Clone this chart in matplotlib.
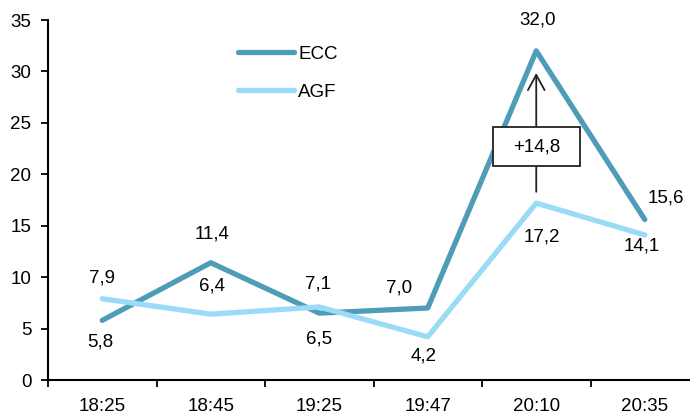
import matplotlib
matplotlib.use("Agg")
import matplotlib.pyplot as plt
from matplotlib.patches import Rectangle

# data
times = ["18:25", "18:45", "19:25", "19:47", "20:10", "20:35"]
ecc = [5.8, 11.4, 6.5, 7.0, 32.0, 15.6]
agf = [7.9, 6.4, 7.1, 4.2, 17.2, 14.1]
delta_label = "+14,8"

# label offsets in pixels (dx, dy), y up
ecc_off = [(-2, -22), (1, 29), (0, -26), (-29, 20), (1, 31), (21, 22)]
agf_off = [(0, 21), (1, 28), (-1, 23), (-4, -19), (6, -34), (-3, -11)]

plt.rcParams["font.family"] = ["Liberation Sans", "DejaVu Sans"]
fs = 13.5

ecc_col = "#4f9cb9"
agf_col = "#9adcf7"

W, H = 690, 419
fig = plt.figure(figsize=(W / 100, H / 100), dpi=100)
ax = fig.add_axes([48 / W, 39 / H, 642 / W, 360 / H])

x = list(range(len(times)))
ax.plot(x, ecc, color=ecc_col, lw=3.8, solid_capstyle="round", label="ECC")
ax.plot(x, agf, color=agf_col, lw=3.8, solid_capstyle="round", label="AGF")

def fmt(v):
    return f"{v:.1f}".replace(".", ",")

for xi, v, (dx, dy) in zip(x, ecc, ecc_off):
    ax.annotate(fmt(v), (xi, v), xytext=(dx * 0.72, dy * 0.72), textcoords="offset points",
                ha="center", va="center", fontsize=fs)
for xi, v, (dx, dy) in zip(x, agf, agf_off):
    ax.annotate(fmt(v), (xi, v), xytext=(dx * 0.72, dy * 0.72), textcoords="offset points",
                ha="center", va="center", fontsize=fs)

# arrow + box at 20:10
peak = ecc.index(max(ecc))
ax.annotate("", xy=(peak, 29.85), xytext=(peak, 18.3),
            arrowprops=dict(arrowstyle="->,head_length=1.1,head_width=0.6",
                            lw=1.3, color="#222222", shrinkA=0, shrinkB=0))
ax.add_patch(Rectangle((peak - 0.4, 20.8), 0.8, 3.8, facecolor="white",
                       edgecolor="#222222", lw=1.3, zorder=4))
ax.text(peak, 22.7, delta_label, ha="center", va="center", fontsize=fs, zorder=5)

ax.set_xlim(-0.5, -0.5 + 642 / 108.5)
ax.set_ylim(0, 35)
ax.set_yticks(range(0, 36, 5))
ax.set_xticks(x)
ax.set_xticklabels(times)
ax.set_xticks([i - 0.5 for i in x], minor=True)
ax.tick_params(axis="x", which="major", length=0, pad=13, labelsize=fs)
ax.tick_params(axis="x", which="minor", length=5, width=1.3)
ax.tick_params(axis="y", length=5, width=1.3, pad=7, labelsize=fs)

for s in ["top", "right"]:
    ax.spines[s].set_visible(False)
for s in ["left", "bottom"]:
    ax.spines[s].set_linewidth(1.5)

ax.legend(loc="upper left", bbox_to_anchor=(0.27, 0.975), frameon=False, fontsize=fs,
          handlelength=3.0, handletextpad=0.2, labelspacing=1.1)

fig.savefig("out.png", dpi=100)
